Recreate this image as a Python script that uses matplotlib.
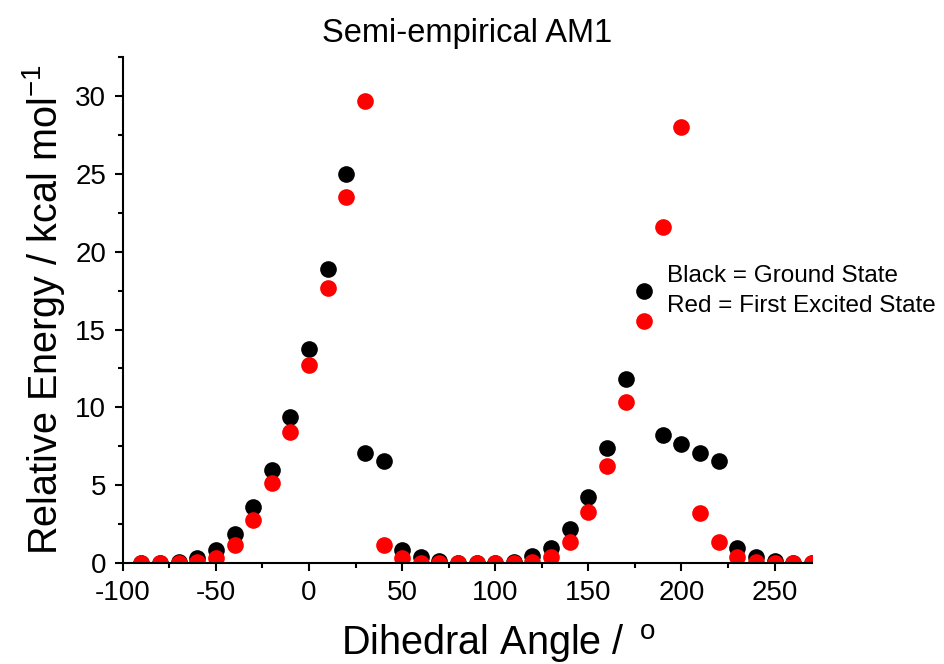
import matplotlib
matplotlib.use("Agg")
import matplotlib.pyplot as plt
from matplotlib.ticker import MultipleLocator

plt.rcParams['font.family'] = ['Liberation Sans', 'DejaVu Sans']
plt.rcParams['mathtext.fontset'] = 'custom'
plt.rcParams['mathtext.rm'] = 'Liberation Sans'
plt.rcParams['mathtext.it'] = 'Liberation Sans:italic'
plt.rcParams['mathtext.bf'] = 'Liberation Sans:bold'
plt.rcParams['axes.unicode_minus'] = False

angles = list(range(-90, 271, 10))
ground = [0.0, 0.0, 0.1, 0.35, 0.83, 1.86, 3.58, 6.0, 9.4, 13.74, 18.9, 25.0,
          7.1, 6.57, 0.83, 0.4, 0.15, 0.02, 0.0, 0.0, 0.1, 0.45, 0.94, 2.16,
          4.22, 7.37, 11.8, 17.47, 8.24, 7.65, 7.1, 6.57, 0.94, 0.4, 0.15,
          0.02, 0.0]
excited = [0.0, 0.0, 0.0, 0.05, 0.3, 1.15, 2.76, 5.16, 8.43, 12.7, 17.7, 23.5,
           29.7, 1.15, 0.3, 0.03, 0.0, 0.0, 0.0, 0.0, 0.0, 0.05, 0.4, 1.37,
           3.3, 6.23, 10.34, 15.54, 21.58, 28.0, 3.23, 1.37, 0.4, 0.05, 0.0,
           0.0, 0.0]

fig = plt.figure(figsize=(9.45, 6.64), dpi=100)
ax = fig.add_axes([0.130, 0.152, 0.729, 0.762])

ax.plot(angles, ground, 'o', color='black', markersize=12, markeredgewidth=0)
ax.plot(angles, excited, 'o', color='#ff0000', markersize=12, markeredgewidth=0)

ax.set_xlim(-100, 270)
ax.set_ylim(0, 32.5)
ax.xaxis.set_major_locator(MultipleLocator(50))
ax.xaxis.set_minor_locator(MultipleLocator(25))
ax.yaxis.set_major_locator(MultipleLocator(5))
ax.yaxis.set_minor_locator(MultipleLocator(2.5))

for s in ['top', 'right']:
    ax.spines[s].set_visible(False)
for s in ['left', 'bottom']:
    ax.spines[s].set_linewidth(1.5)

ax.tick_params(which='major', direction='out', length=6, width=1.5, labelsize=20, pad=6)
ax.tick_params(which='minor', direction='out', length=3.5, width=1.5)

ax.set_title('Semi-empirical AM1', fontsize=23.5, pad=11)
ax.set_xlabel(r'Dihedral Angle / $\,^{\mathrm{o}}$', fontsize=28.5, labelpad=12, x=0.546)
ax.set_ylabel(r'Relative Energy / kcal mol$^{-1}$', fontsize=28.5, labelpad=6)

ax.text(192.2, 18.05, 'Black = Ground State', fontsize=17.5, va='baseline', ha='left', clip_on=False)
ax.text(192.2, 16.12, 'Red = First Excited State', fontsize=17.5, va='baseline', ha='left', clip_on=False)

fig.savefig('out.png', dpi=100)
